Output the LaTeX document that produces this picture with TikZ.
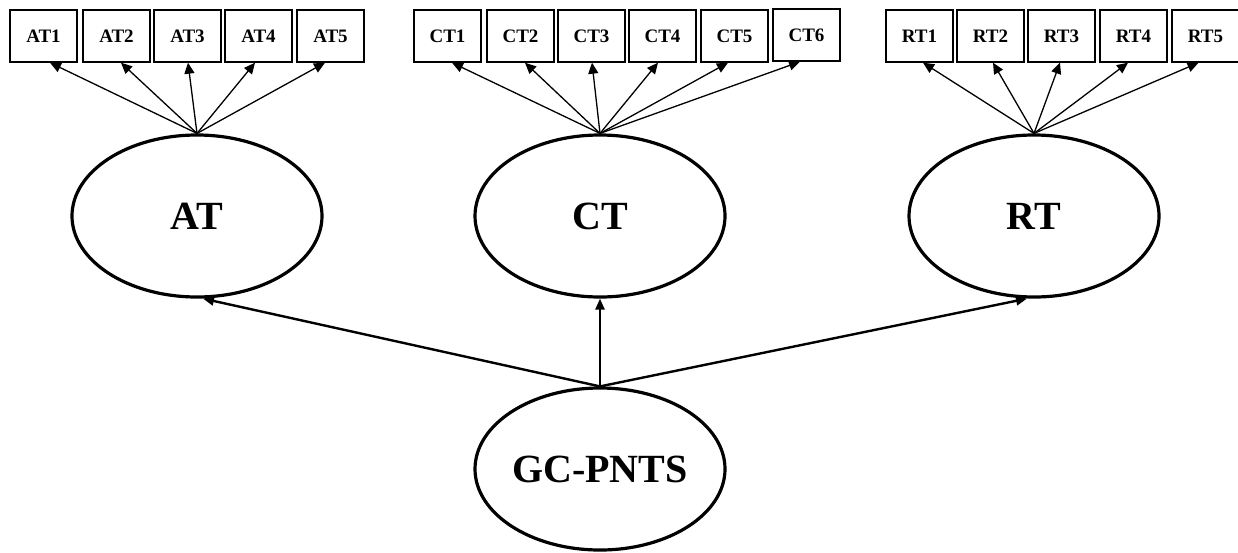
\documentclass[tikz,border=0pt]{standalone}
\usepackage{fontspec}
\setmainfont{Liberation Serif}
\usetikzlibrary{shapes.geometric,arrows.meta}
\tikzset{
  ind/.style={draw, line width=1.4pt, minimum width=67pt, minimum height=52pt, inner sep=0pt,
    font=\fontsize{19}{19}\selectfont\bfseries},
  lat/.style={draw, ellipse, line width=3.2pt, minimum width=250pt, minimum height=162pt, inner sep=0pt,
    font=\fontsize{40}{40}\selectfont\bfseries},
  load/.style={line width=1.3pt, -{Triangle[length=11pt,width=10pt]}},
  path/.style={line width=2.4pt, -{Triangle[length=11pt,width=9pt]}}
}
\begin{document}
\begin{tikzpicture}[x=1pt,y=-1pt]
\useasboundingbox (0,0) rectangle (1238,552);
% indicator boxes
\node[ind] (AT1) at (43.5,36) {AT1};
\node[ind] (AT2) at (116.5,36) {AT2};
\node[ind] (AT3) at (187.5,36) {AT3};
\node[ind] (AT4) at (258.5,36) {AT4};
\node[ind] (AT5) at (330.5,36) {AT5};
\node[ind] (CT1) at (447.5,36) {CT1};
\node[ind] (CT2) at (520.5,36) {CT2};
\node[ind] (CT3) at (591.5,36) {CT3};
\node[ind] (CT4) at (662.5,36) {CT4};
\node[ind] (CT5) at (734.5,36) {CT5};
\node[ind] (CT6) at (806.5,35) {CT6};
\node[ind] (RT1) at (919.5,36) {RT1};
\node[ind] (RT2) at (990.5,36) {RT2};
\node[ind] (RT3) at (1061.5,36) {RT3};
\node[ind] (RT4) at (1133.5,36) {RT4};
\node[ind] (RT5) at (1205.5,36) {RT5};
% latent ellipses
\node[lat] (AT) at (197,216) {AT};
\node[lat] (CT) at (600,216) {CT};
\node[lat] (RT) at (1034,216) {RT};
\node[lat] (GC) at (600,469) {GC-PNTS};
% loadings
\draw[load] (AT.north) -- ([xshift=6.5pt]AT1.south);
\draw[load] (AT.north) -- ([xshift=4.5pt]AT2.south);
\draw[load] (AT.north) -- ([xshift=0.5pt]AT3.south);
\draw[load] (AT.north) -- ([xshift=-3.5pt]AT4.south);
\draw[load] (AT.north) -- ([xshift=-5.5pt]AT5.south);
\draw[load] (CT.north) -- ([xshift=4.5pt]CT1.south);
\draw[load] (CT.north) -- ([xshift=4.5pt]CT2.south);
\draw[load] (CT.north) -- ([xshift=0.5pt]CT3.south);
\draw[load] (CT.north) -- ([xshift=-4.5pt]CT4.south);
\draw[load] (CT.north) -- ([xshift=-6.5pt]CT5.south);
\draw[load] (CT.north) -- ([xshift=-6.5pt]CT6.south);
\draw[load] (RT.north) -- ([xshift=3.5pt]RT1.south);
\draw[load] (RT.north) -- ([xshift=2.5pt]RT2.south);
\draw[load] (RT.north) -- ([xshift=-1.5pt]RT3.south);
\draw[load] (RT.north) -- ([xshift=-5.5pt]RT4.south);
\draw[load] (RT.north) -- ([xshift=-7pt]RT5.south);
% structural paths
\draw[path] (GC.north) -- ([xshift=6pt]AT.south);
\draw[path] (GC.north) -- (CT.south);
\draw[path] (GC.north) -- ([xshift=-7pt]RT.south);
\end{tikzpicture}
\end{document}
